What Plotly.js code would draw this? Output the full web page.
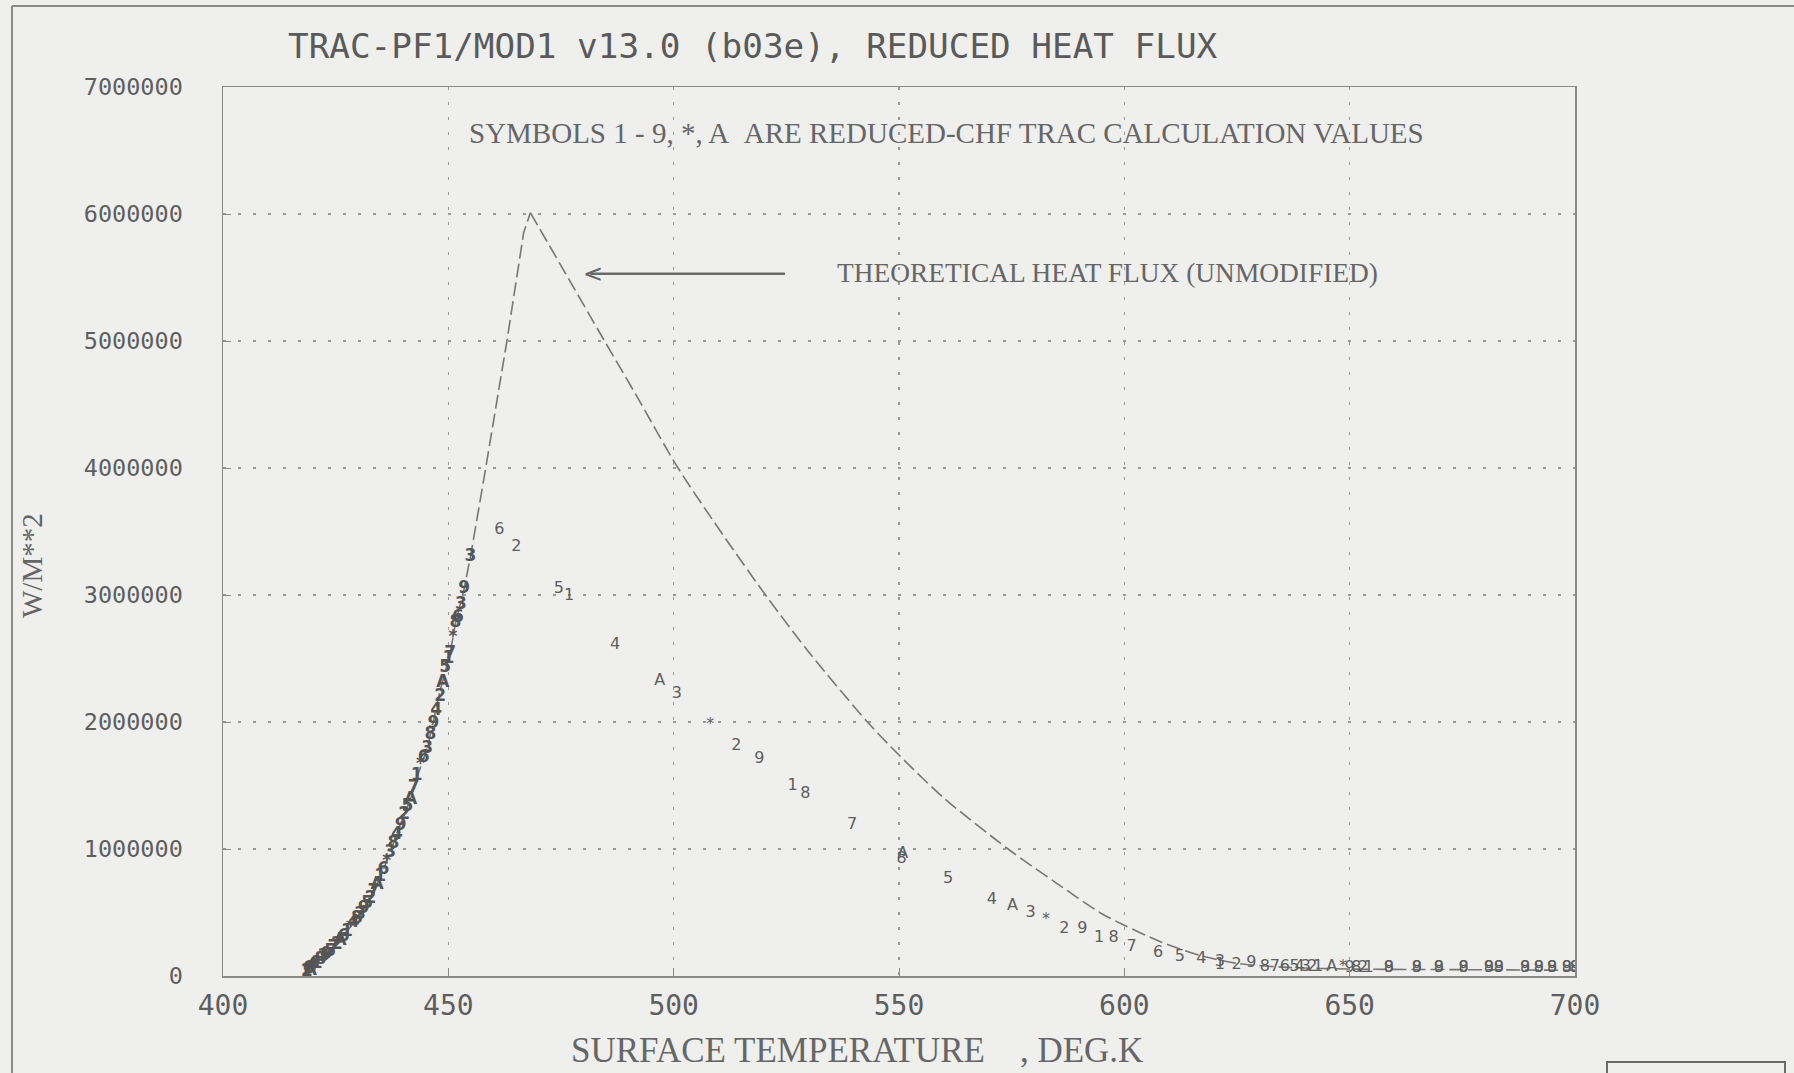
<!DOCTYPE html>
<html>
<head>
<meta charset="utf-8">
<script src="https://cdn.plot.ly/plotly-3.0.1.min.js"></script>
<style>html,body{margin:0;padding:0;background:#efefed;}</style>
</head>
<body>
<div id="chart" style="width:1794px;height:1073px;"></div>
<script>
// Theoretical heat flux (unmodified), W/M**2 (in millions) vs surface temperature (K)
const theoRiseT = [418.6,421.6,424.5,427.5,430.4,432.7,434.9,437.1,438.6,441.6,443.0,445.3,447.3,448.2,450.4,451.6,453.5,454.9,458.2,463.0,466.7,468.2];
const theoRiseQ = [0.00,0.13,0.22,0.35,0.48,0.61,0.78,0.97,1.13,1.39,1.56,1.79,2.09,2.25,2.54,2.78,3.05,3.30,3.98,5.00,5.85,6.01];
const theoFallT = [468.2,474.9,484.5,491.9,500.8,511.0,520.8,530.0,543.0,550.0,560.0,574.2,585.0,595.0,600.0,608.0,617.0,625.0,635.0,650.0,675.0,700.0];
const theoFallQ = [6.01,5.60,5.01,4.56,4.01,3.47,2.98,2.55,2.00,1.74,1.40,1.00,0.73,0.49,0.40,0.27,0.16,0.10,0.07,0.055,0.05,0.045];

// Reduced-CHF TRAC calculation values (symbols 1-9, *, A) — cluster on the rising branch
const riseT = [418.6,419.0,419.4,419.8,420.3,420.8,421.6,422.3,423.0,423.8,424.5,425.3,426.0,426.8,427.5,428.3,429.0,429.7,430.4,431.2,
               432.0,432.7,433.4,434.2,434.9,435.6,436.3,437.1,437.8,438.6,439.4,440.2,440.9,441.6,442.3,443.0,443.8,444.5,445.3,446.0,
               446.7,447.3,448.2,448.8,449.3,450.0,450.4,451.0,451.6,452.1,452.8,453.5,454.9];
const riseQ = [0.03,0.06,0.04,0.08,0.07,0.10,0.13,0.15,0.17,0.19,0.22,0.25,0.28,0.31,0.35,0.38,0.42,0.45,0.48,0.53,
               0.57,0.61,0.66,0.72,0.78,0.84,0.90,0.97,1.04,1.11,1.18,1.27,1.33,1.39,1.48,1.58,1.66,1.72,1.79,1.90,
               1.99,2.09,2.20,2.31,2.43,2.50,2.54,2.66,2.78,2.82,2.92,3.05,3.30];
const riseSym = ['2','6','A','4','*','1','8','3','9','5','7','2','A','6','1','*','4','8','3','9',
                 '5','2','7','A','1','6','*','3','8','4','9','2','5','A','7','1','*','6','3','8',
                 '9','4','2','A','5','1','7','*','8','6','3','9','3'];

// Reduced-CHF TRAC calculation values — descending branch and tail
const fallT = [461.3,465.1,474.5,476.8,487.0,496.9,500.7,508.1,513.9,519.0,526.4,529.2,539.6,550.8,550.6,560.9,570.6,575.2,579.2,582.6,
               586.7,590.7,594.4,597.6,601.6,607.5,612.3,617.1,621.2,621.2,624.9,628.2,631.2,633.4,635.6,637.8,638.9,640.3,641.7,643.0,
               646.0,648.5,650.0,651.5,653.0,654.2,658.7,658.7,664.9,664.9,669.8,669.8,675.3,675.3,680.9,680.9,683.1,683.1,
               688.9,688.9,692.0,692.0,694.9,694.9,698.2,698.2,700.0,700.0];
const fallQ = [3.51,3.38,3.05,2.99,2.61,2.32,2.22,1.98,1.81,1.71,1.50,1.43,1.19,0.96,0.92,0.76,0.60,0.55,0.50,0.44,
               0.37,0.37,0.30,0.30,0.23,0.18,0.15,0.13,0.11,0.09,0.09,0.10,0.073,0.073,0.073,0.073,0.073,0.073,0.073,0.073,
               0.073,0.07,0.065,0.065,0.065,0.065,0.063,0.063,0.063,0.063,0.063,0.063,0.063,0.063,0.063,0.063,0.063,0.063,
               0.063,0.063,0.063,0.063,0.063,0.063,0.063,0.063,0.063,0.063];
const fallSym = ['6','2','5','1','4','A','3','*','2','9','1','8','7','A','8','5','4','A','3','*',
                 '2','9','1','8','7','6','5','4','3','1','2','9','8','7','6','5','4','3','2','1',
                 'A','*','9','8','2','1','8','9','8','9','8','9','8','9','8','9','8','9',
                 '8','9','8','9','8','9','8','9','8','9'];

const xTicks = [400,450,500,550,600,650,700];
const yTicks = [0,1000000,2000000,3000000,4000000,5000000,6000000,7000000];

const titleText = 'TRAC-PF1/MOD1 v13.0 (b03e), REDUCED HEAT FLUX';
const xTitle = 'SURFACE TEMPERATURE\u00a0\u00a0\u00a0\u00a0, DEG.K';
const yTitle = 'W/M**2';
const note1 = 'SYMBOLS 1 - 9, *, A\u00a0\u00a0ARE REDUCED-CHF TRAC CALCULATION VALUES';
const note2 = 'THEORETICAL HEAT FLUX (UNMODIFIED)';

const toW = a => a.map(v => v * 1e6);
const curveLine = {color: '#777777', width: 1.6, dash: '14px,5px'};

const traces = [
  {x: theoRiseT, y: toW(theoRiseQ), mode: 'lines', type: 'scatter', line: Object.assign({shape: 'linear'}, curveLine)},
  {x: theoFallT, y: toW(theoFallQ), mode: 'lines', type: 'scatter', line: Object.assign({shape: 'spline', smoothing: 0.8}, curveLine)},
  {x: riseT, y: toW(riseQ), mode: 'text', type: 'scatter', text: riseSym, textposition: 'middle center',
   textfont: {family: 'DejaVu Sans, sans-serif', size: 17, color: '#555555', weight: 'bold'}},
  {x: fallT, y: toW(fallQ), mode: 'text', type: 'scatter', text: fallSym, textposition: 'middle center',
   textfont: {family: 'DejaVu Sans, sans-serif', size: 16, color: '#5e5e5e'}}
];

const mono = 'DejaVu Sans Mono, monospace';
const serif = 'Liberation Serif, DejaVu Serif, serif';

const L = 223, R = 1575, T = 87, B = 976;
const px = v => (v - L) / (R - L);
const py = v => (B - v) / (B - T);

const layout = {
  width: 1794, height: 1073,
  margin: {l: L, r: 1794 - R, t: T, b: 1073 - B},
  paper_bgcolor: '#efefed', plot_bgcolor: '#efefed',
  showlegend: false,
  title: {text: titleText, x: 288 / 1794, xanchor: 'left', xref: 'container',
          y: 1 - 46 / 1073, yanchor: 'middle', yref: 'container',
          font: {family: mono, size: 34.3, color: '#5a5a5a'}},
  xaxis: {range: [400, 700], tickvals: xTicks, ticktext: xTicks.map(String),
          showline: true, linecolor: '#8a8a8a', linewidth: 1.5, mirror: true,
          ticks: 'inside', ticklen: 8, tickcolor: '#8a8a8a',
          showgrid: true, gridcolor: '#9a9a9a', gridwidth: 1.3, griddash: '3px,12px',
          zeroline: false, ticklabelstandoff: 4,
          tickfont: {family: mono, size: 28, color: '#5e5e5e'}},
  yaxis: {range: [0, 7000000], tickvals: yTicks, ticktext: yTicks.map(v => String(v)),
          showline: true, linecolor: '#8a8a8a', linewidth: 1.5, mirror: true,
          ticks: 'inside', ticklen: 8, tickcolor: '#8a8a8a',
          showgrid: true, gridcolor: '#9a9a9a', gridwidth: 1.3, griddash: '3px,12px',
          zeroline: false, ticklabelstandoff: 34,
          tickfont: {family: mono, size: 23.5, color: '#5e5e5e'}},
  annotations: [
    {text: note1, xref: 'paper', yref: 'paper', x: px(467), y: py(133), xanchor: 'left', yanchor: 'middle',
     showarrow: false, font: {family: serif, size: 29, color: '#666'}},
    {text: note2, xref: 'paper', yref: 'paper', x: px(835), y: py(273), xanchor: 'left', yanchor: 'middle',
     showarrow: false, font: {family: serif, size: 27.4, color: '#666'}},
    {text: '<', xref: 'x', yref: 'y', x: 479.5, y: 5530000, xanchor: 'left', yanchor: 'middle',
     showarrow: false, font: {family: 'DejaVu Sans', size: 24, color: '#666'}},
    {text: xTitle, xref: 'paper', yref: 'paper', x: px(857), y: py(1050), xanchor: 'center', yanchor: 'middle',
     showarrow: false, font: {family: serif, size: 35, color: '#666'}},
    {text: yTitle, xref: 'paper', yref: 'paper', x: px(32), y: py(566), xanchor: 'center', yanchor: 'middle',
     textangle: -90, showarrow: false, font: {family: serif, size: 29, color: '#666'}}
  ],
  shapes: [
    {type: 'line', xref: 'x', yref: 'y', x0: 481.5, x1: 524.7, y0: 5530000, y1: 5530000,
     line: {color: '#6a6a6a', width: 2.5}},
    {type: 'line', xref: 'paper', yref: 'paper', x0: px(12), x1: px(12), y0: py(6), y1: py(1080),
     line: {color: '#8a8a8a', width: 2}},
    {type: 'line', xref: 'paper', yref: 'paper', x0: px(12), x1: px(1800), y0: py(6), y1: py(6),
     line: {color: '#8a8a8a', width: 2}},
    {type: 'rect', xref: 'paper', yref: 'paper', x0: px(1607), x1: px(1785), y0: py(1062), y1: py(1085),
     line: {color: '#6a6a6a', width: 2}}
  ]
};

Plotly.newPlot('chart', traces, layout, {displayModeBar: false, staticPlot: true});
</script>
</body>
</html>
